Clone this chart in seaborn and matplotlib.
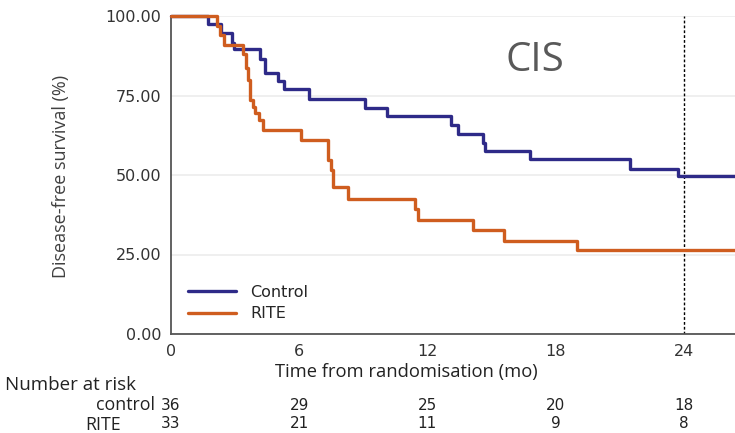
import numpy as np
import pandas as pd
import matplotlib
matplotlib.use("Agg")
import matplotlib.pyplot as plt
import matplotlib.transforms as mtransforms
import seaborn as sns

# ---- data ----
control_time = [0, 1.75, 2.35, 2.85, 2.95, 4.15, 4.4, 5.0, 5.3, 6.45, 9.1, 10.1,
                13.1, 13.45, 14.6, 14.7, 16.8, 21.5, 23.75, 26.4]
control_surv = [100, 97.5, 94.5, 91.5, 89.5, 86.5, 82.0, 79.5, 77.0, 73.8, 71.2, 68.4,
                65.7, 63.0, 60.0, 57.4, 55.0, 52.0, 49.7, 49.7]

rite_time = [0, 2.15, 2.3, 2.5, 3.38, 3.5, 3.6, 3.7, 3.85, 3.93, 4.1, 4.3, 6.1,
             7.36, 7.5, 7.6, 8.3, 11.4, 11.55, 14.15, 15.6, 19.0, 26.4]
rite_surv = [100, 97.0, 93.9, 90.9, 87.9, 83.5, 79.9, 73.6, 71.5, 69.4, 67.3, 64.2, 61.0,
             54.6, 51.6, 46.3, 42.6, 39.3, 35.8, 32.7, 29.3, 26.4, 26.4]

groups = ["Control", "RITE"]
x_ticks = [0, 6, 12, 18, 24]
y_ticks = [0, 25, 50, 75, 100]
risk_control = [36, 29, 25, 20, 18]
risk_rite = [33, 21, 11, 9, 8]

df = pd.concat([
    pd.DataFrame({"time": control_time, "surv": control_surv, "group": "Control"}),
    pd.DataFrame({"time": rite_time, "surv": rite_surv, "group": "RITE"}),
], ignore_index=True)

sns.set_theme(style="white")
plt.rcParams["font.family"] = ["DejaVu Sans"]

W, H = 735, 433
fig = plt.figure(figsize=(W / 100, H / 100), dpi=100)
left, right, top, bottom = 171, 735, 16, 334
ax = fig.add_axes([left / W, 1 - bottom / H, (right - left) / W, (bottom - top) / H])

palette = {"Control": "#2e2a88", "RITE": "#cf5d1f"}
sns.lineplot(data=df, x="time", y="surv", hue="group", hue_order=groups,
             palette=palette, drawstyle="steps-post", estimator=None,
             linewidth=2.4, ax=ax, clip_on=False, zorder=3)

ax.set_xlim(0, 26.4)
ax.set_ylim(0, 100)
ax.set_xticks(x_ticks)
ax.set_yticks(y_ticks)
ax.set_yticklabels([f"{v:.2f}" for v in y_ticks])
ax.tick_params(axis="both", labelsize=11.5, colors="#444444", labelcolor="#333333")
ax.tick_params(axis="y", direction="out", length=5, width=1, pad=2)
ax.tick_params(axis="x", direction="inout", length=7, width=1, pad=4)

for s in ["top", "right"]:
    ax.spines[s].set_visible(False)
for s in ["left", "bottom"]:
    ax.spines[s].set_color("#555555")
    ax.spines[s].set_linewidth(1.3)

ax.yaxis.grid(True, color="#ececec", linewidth=1.2)
ax.xaxis.grid(False)
ax.set_axisbelow(True)

ax.axvline(24, color="black", linestyle=(0, (2, 1.5)), linewidth=1.0, zorder=2)

ax.set_ylabel("Disease-free survival (%)", fontsize=13, color="#404040",
              family=["Open Sans", "DejaVu Sans"])
ax.yaxis.set_label_coords(-0.179, 0.495)
ax.set_xlabel("Time from randomisation (mo)", fontsize=13.2, color="#222222",
              family=["Open Sans", "DejaVu Sans"])
ax.xaxis.set_label_coords(0.417, -0.12)
ax.xaxis.label.set_va("center")

ax.text(0.645, 0.86, "CIS", transform=ax.transAxes, fontsize=29,
        color="#595959", ha="center", va="center", family=["Open Sans", "DejaVu Sans"])

handles, labels = ax.get_legend_handles_labels()
ax.legend(handles, labels, loc="lower left", bbox_to_anchor=(0.005, -0.005),
          frameon=False, fontsize=11.5, handlelength=3.0, labelspacing=0.4,
          handletextpad=0.9)

# ---- number at risk table ----
fig.text(5 / W, 1 - 385 / H, "Number at risk", fontsize=13.5, color="#222222",
         ha="left", va="center", family=["Open Sans", "DejaVu Sans"])
fig.text(155 / W, 1 - 405 / H, "control", fontsize=12.8, color="#222222",
         ha="right", va="center", family=["Open Sans", "DejaVu Sans"])
fig.text(121 / W, 1 - 425 / H, "RITE", fontsize=12.8, color="#222222",
         ha="right", va="center", family=["Open Sans", "DejaVu Sans"])
trans = mtransforms.blended_transform_factory(ax.transData, fig.transFigure)
for t, n in zip(x_ticks, risk_control):
    fig.text(t, 1 - 405 / H, str(n), transform=trans, fontsize=11,
             color="#222222", ha="center", va="center")
for t, n in zip(x_ticks, risk_rite):
    fig.text(t, 1 - 424 / H, str(n), transform=trans, fontsize=11,
             color="#222222", ha="center", va="center")

fig.savefig("out.png", dpi=100)
